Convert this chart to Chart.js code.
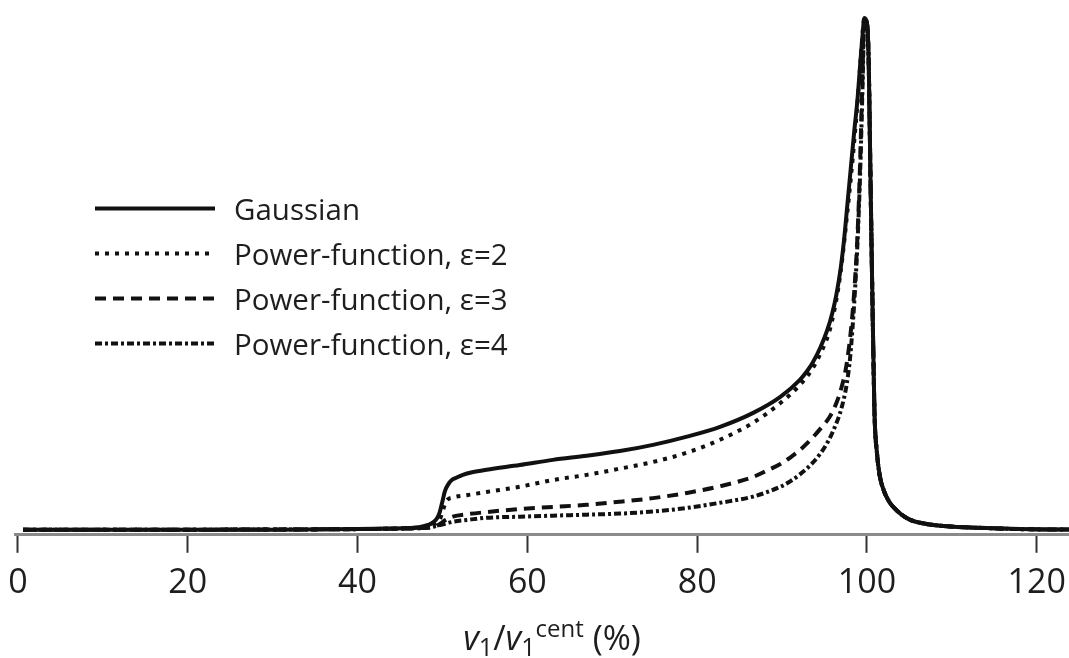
<!DOCTYPE html>
<html>
<head>
<meta charset="utf-8">
<script src="https://cdn.jsdelivr.net/npm/chart.js@4.4.1/dist/chart.umd.min.js"></script>
<style>
  html, body { margin: 0; padding: 0; background: #fff; }
  #wrap { position: relative; width: 1069px; height: 658px; }
  #legend {
    position: absolute; left: 95px; top: 186px;
    font-family: "Open Sans", sans-serif; font-size: 29.5px; color: #1e1e1e;
  }
  .row { display: flex; align-items: center; height: 45px; }
  .row span { margin-left: 19px; line-height: 45px; white-space: nowrap; }
  #xtitle {
    position: absolute; left: 402px; width: 300px; top: 617px;
    text-align: center; line-height: 40px;
    font-family: "Open Sans", sans-serif; font-size: 34px; color: #1e1e1e;
  }
  #xtitle .sub { font-size: 25px; position: relative; top: 6px; }
  #xtitle .sup { font-size: 24px; position: relative; top: -13px; }
</style>
</head>
<body>
<div id="wrap">
  <canvas id="chart" width="1069" height="658"></canvas>
  <div id="legend"></div>
  <div id="xtitle"><i>v</i><span class="sub">1</span>/<i>v</i><span class="sub">1</span><span class="sup">cent</span> (%)</div>
</div>
<script>
// series labels
const seriesLabels = ['Gaussian', 'Power-function, \u03b5=2', 'Power-function, \u03b5=3', 'Power-function, \u03b5=4'];

// x axis ticks
const xTicks = [0, 20, 40, 60, 80, 100, 120];

// Gaussian
const gaussX = [0.6, 10, 20, 30, 40, 44, 46, 47.4, 48.3, 48.9, 49.4, 49.7, 50.0, 50.3, 50.7, 51.1, 51.7, 52.4, 53.5, 55.2,
  59.1, 63.0, 67.0, 70.9, 74.8, 78.8, 82.7, 86.6, 89.8, 92.1, 93.0, 93.6, 94.5, 95.3, 95.9, 96.4, 96.9, 97.3, 97.7, 98.1,
  98.5, 98.9, 99.2, 99.5, 99.7];
const gaussY = [0.010, 0.010, 0.010, 0.010, 0.011, 0.012, 0.013, 0.015, 0.019, 0.024, 0.033, 0.045, 0.065, 0.085, 0.098, 0.106, 0.111, 0.116, 0.121, 0.126,
  0.135, 0.145, 0.153, 0.162, 0.174, 0.190, 0.209, 0.236, 0.267, 0.300, 0.318, 0.333, 0.362, 0.395, 0.428, 0.465, 0.515, 0.570, 0.640, 0.710,
  0.780, 0.845, 0.910, 0.970, 1.0];

// power-function, eps = 2
const pow2X = [0.6, 20, 40, 44, 46, 47.4, 48.5, 49.2, 49.7, 50.1, 50.5, 51.2, 53.0, 55.2, 59.1, 63.0, 67.0, 70.9, 74.8, 78.8,
  82.7, 86.6, 89.8, 92.1, 93.6, 94.5, 95.5, 96.1, 96.6, 97.1, 97.6, 98.1, 98.6, 99.0, 99.3, 99.7];
const pow2Y = [0.010, 0.010, 0.011, 0.012, 0.013, 0.014, 0.017, 0.022, 0.030, 0.050, 0.066, 0.072, 0.077, 0.083, 0.093, 0.106, 0.116, 0.128, 0.141, 0.159,
  0.184, 0.217, 0.255, 0.290, 0.322, 0.350, 0.390, 0.430, 0.475, 0.535, 0.610, 0.690, 0.780, 0.860, 0.930, 1.0];

// power-function, eps = 3
const pow3X = [0.6, 20, 40, 45, 47.5, 48.8, 49.4, 49.8, 50.3, 51.2, 53.0, 55.2, 59.1, 63.0, 67.0, 70.9, 74.8, 78.8, 82.7, 86.6,
  88.2, 89.8, 91.0, 92.1, 93.6, 94.5, 95.6, 96.4, 97.0, 97.5, 97.9, 98.2, 98.5, 98.8, 99.1, 99.4, 99.7];
const pow3Y = [0.010, 0.010, 0.011, 0.012, 0.013, 0.015, 0.018, 0.022, 0.028, 0.035, 0.040, 0.044, 0.050, 0.054, 0.058, 0.064, 0.071, 0.081, 0.094, 0.112,
  0.124, 0.137, 0.150, 0.164, 0.188, 0.205, 0.228, 0.255, 0.285, 0.320, 0.365, 0.410, 0.470, 0.550, 0.670, 0.840, 1.0];

// power-function, eps = 4
const pow4X = [0.6, 20, 40, 45, 47.5, 48.8, 49.5, 50.2, 51.2, 53.0, 55.2, 59.1, 63.0, 67.0, 70.9, 74.8, 78.8, 82.7, 86.6,
  89.8, 91.0, 92.1, 93.6, 94.5, 95.4, 96.2, 97.0, 97.6, 98.0, 98.3, 98.6, 98.9, 99.2, 99.5, 99.7];
const pow4Y = [0.010, 0.010, 0.011, 0.012, 0.013, 0.015, 0.018, 0.021, 0.025, 0.029, 0.033, 0.035, 0.037, 0.039, 0.041, 0.045, 0.052, 0.062, 0.074,
  0.093, 0.104, 0.117, 0.139, 0.157, 0.180, 0.208, 0.245, 0.290, 0.340, 0.400, 0.475, 0.570, 0.700, 0.880, 1.0];

// falling edge after the peak, shared by all four curves
const tailX = [100.0, 100.2, 100.4, 100.6, 100.8, 100.9, 101.2, 101.5, 102.0, 102.7, 103.1, 104.0, 105.1, 107.0, 109.0, 114.0, 118.0, 123.9];
const tailY = [0.990, 0.920, 0.710, 0.500, 0.310, 0.230, 0.155, 0.115, 0.085, 0.062, 0.054, 0.040, 0.029, 0.021, 0.017, 0.013, 0.011, 0.010];

function points(xs, ys) {
  const all = xs.concat(tailX);
  const vals = ys.concat(tailY);
  return all.map((x, i) => ({ x: x, y: vals[i] }));
}

const dashes = [[], [4, 6], [11, 7], [7, 3, 3, 3]];
const seriesData = [points(gaussX, gaussY), points(pow2X, pow2Y), points(pow3X, pow3Y), points(pow4X, pow4Y)];

const datasets = seriesLabels.map((label, i) => ({
  label: label,
  data: seriesData[i],
  borderColor: '#111',
  borderWidth: 4,
  borderDash: dashes[i],
  borderCapStyle: 'butt',
  pointRadius: 0,
  cubicInterpolationMode: 'monotone',
  order: i === 0 ? 0 : 4 - i
}));

const chart = new Chart(document.getElementById('chart'), {
  type: 'line',
  data: { datasets: datasets },
  options: {
    responsive: false,
    animation: false,
    layout: { padding: { left: 15, right: 0, top: 0, bottom: 44 } },
    plugins: { legend: { display: false }, tooltip: { enabled: false } },
    scales: {
      x: {
        type: 'linear',
        min: -0.35,
        max: 123.8,
        afterBuildTicks: axis => { axis.ticks = xTicks.map(v => ({ value: v })); },
        grid: { drawOnChartArea: false, tickLength: 18, tickWidth: 2, tickColor: '#333' },
        border: { color: '#8a8a8a', width: 3 },
        ticks: {
          padding: 0,
          color: '#1e1e1e',
          maxRotation: 0,
          autoSkip: false,
          font: { family: '"Open Sans", sans-serif', size: 34, lineHeight: 1.8 }
        }
      },
      y: { display: false, min: 0, max: 1.035 }
    }
  }
});

// legend rows built from the dataset styles
const legend = document.getElementById('legend');
chart.data.datasets.forEach(ds => {
  const row = document.createElement('div');
  row.className = 'row';
  const dash = ds.borderDash.length ? ' stroke-dasharray="' + ds.borderDash.join(' ') + '"' : '';
  row.innerHTML = '<svg width="120" height="45"><line x1="0" y1="22.5" x2="120" y2="22.5" stroke="' + ds.borderColor +
    '" stroke-width="' + ds.borderWidth + '"' + dash + '/></svg><span>' + ds.label + '</span>';
  legend.appendChild(row);
});
</script>
</body>
</html>
